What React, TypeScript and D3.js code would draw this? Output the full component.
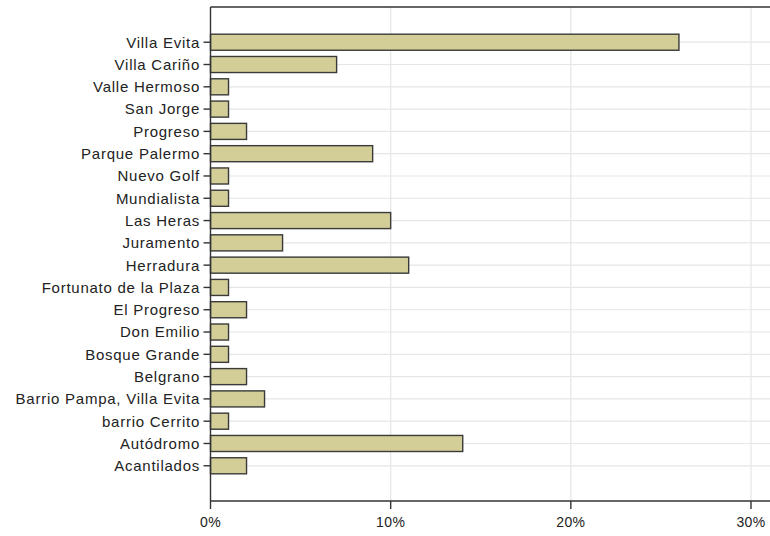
import { useMemo } from 'react';
import * as d3 from 'd3';

const categories = [
  'Villa Evita',
  'Villa Cariño',
  'Valle Hermoso',
  'San Jorge',
  'Progreso',
  'Parque Palermo',
  'Nuevo Golf',
  'Mundialista',
  'Las Heras',
  'Juramento',
  'Herradura',
  'Fortunato de la Plaza',
  'El Progreso',
  'Don Emilio',
  'Bosque Grande',
  'Belgrano',
  'Barrio Pampa, Villa Evita',
  'barrio Cerrito',
  'Autódromo',
  'Acantilados',
];

const percents = [26, 7, 1, 1, 2, 9, 1, 1, 10, 4, 11, 1, 2, 1, 1, 2, 3, 1, 14, 2];

const xTicks = [0, 10, 20, 30];

const width = 770;
const height = 536;
const plotLeft = 210.5;
const plotTop = 7;
const plotBottom = 501;

const fontFamily = '"Liberation Sans", Arial, sans-serif';

export default function App() {
  const x = useMemo(() => d3.scaleLinear().domain([0, 30]).range([plotLeft, 751]), []);
  const y = useMemo(
    () =>
      d3.scaleBand<string>()
        .domain(categories)
        .range([plotTop, plotBottom])
        .paddingInner(0.28)
        .paddingOuter(1.22),
    []
  );

  const bw = y.bandwidth();

  return (
    <svg
      width={width}
      height={height}
      style={{ position: 'absolute', left: 0, top: 0, background: '#fff' }}
    >
      {/* gridlines */}
      <g stroke="#e6e6e6" strokeWidth={1.2}>
        {categories.map(c => {
          const cy = (y(c) ?? 0) + bw / 2;
          return <line key={c} x1={plotLeft} x2={width} y1={cy} y2={cy} />;
        })}
        {xTicks.filter(t => t > 0).map(t => (
          <line key={t} x1={x(t)} x2={x(t)} y1={plotTop} y2={plotBottom} />
        ))}
      </g>

      {/* bars */}
      <g>
        {categories.map((c, i) => (
          <rect
            key={c}
            x={x(0)}
            y={y(c)}
            width={x(percents[i]) - x(0)}
            height={bw}
            fill="#d3ce98"
            stroke="#3a3a3a"
            strokeWidth={1.4}
          />
        ))}
      </g>

      {/* frame */}
      <g stroke="#333" strokeWidth={1.4} fill="none">
        <line x1={plotLeft} x2={width} y1={plotTop} y2={plotTop} />
        <line x1={plotLeft} x2={width} y1={plotBottom} y2={plotBottom} />
        <line x1={plotLeft} x2={plotLeft} y1={plotTop} y2={plotBottom} />
      </g>

      {/* y axis ticks + labels */}
      <g fontFamily={fontFamily} fontSize={15} fill="#222">
        {categories.map(c => {
          const cy = (y(c) ?? 0) + bw / 2;
          return (
            <g key={c}>
              <line x1={plotLeft - 7} x2={plotLeft} y1={cy} y2={cy} stroke="#333" strokeWidth={1.4} />
              <text x={plotLeft - 10.5} y={cy} dy="0.36em" textAnchor="end" letterSpacing={0.75}>
                {c}
              </text>
            </g>
          );
        })}
      </g>

      {/* x axis ticks + labels */}
      <g fontFamily={fontFamily} fontSize={14} fill="#222">
        {xTicks.map(t => (
          <g key={t}>
            <line x1={x(t)} x2={x(t)} y1={plotBottom} y2={plotBottom + 8} stroke="#333" strokeWidth={1.4} />
            <text x={x(t)} y={526.5} textAnchor="middle" letterSpacing={0.4}>
              {`${t}%`}
            </text>
          </g>
        ))}
      </g>
    </svg>
  );
}
